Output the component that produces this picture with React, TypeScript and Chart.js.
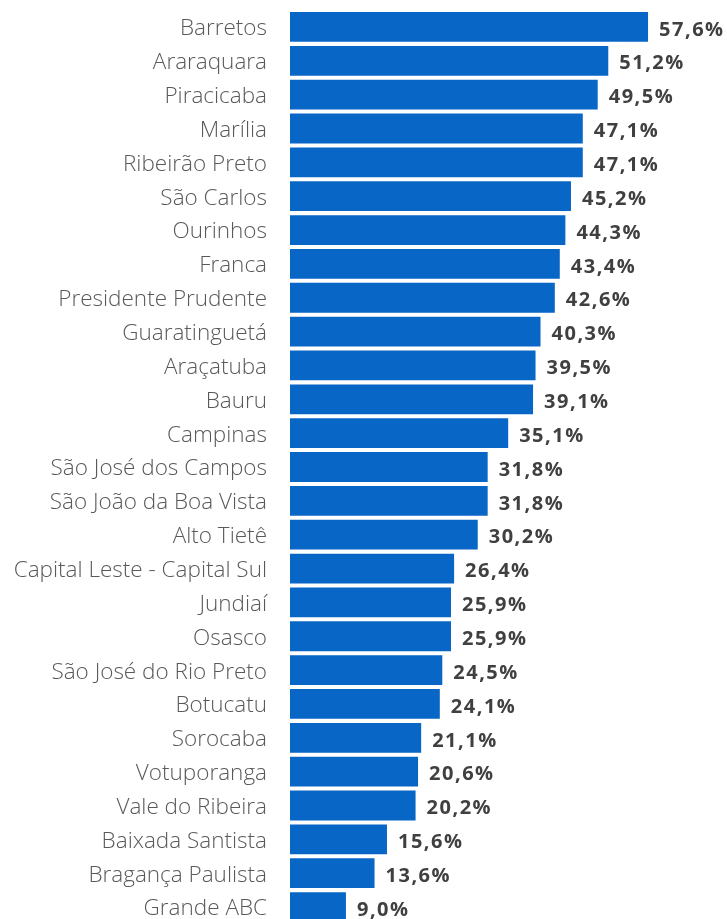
import React, { useEffect, useRef } from "react";
import { Chart, registerables } from "chart.js";

Chart.register(...registerables);

const categories = [
  "Barretos", "Araraquara", "Piracicaba", "Marília", "Ribeirão Preto", "São Carlos",
  "Ourinhos", "Franca", "Presidente Prudente", "Guaratinguetá", "Araçatuba", "Bauru",
  "Campinas", "São José dos Campos", "São João da Boa Vista", "Alto Tietê",
  "Capital Leste - Capital Sul", "Jundiaí", "Osasco", "São José do Rio Preto",
  "Botucatu", "Sorocaba", "Votuporanga", "Vale do Ribeira", "Baixada Santista",
  "Bragança Paulista", "Grande ABC",
];

const values = [
  57.6, 51.2, 49.5, 47.1, 47.1, 45.2, 44.3, 43.4, 42.6, 40.3, 39.5, 39.1, 35.1,
  31.8, 31.8, 30.2, 26.4, 25.9, 25.9, 24.5, 24.1, 21.1, 20.6, 20.2, 15.6, 13.6, 9.0,
];

const fmt = (v: number) => v.toFixed(1).replace(".", ",") + "%";

const valueLabels = {
  id: "valueLabels",
  afterDatasetsDraw(chart: any) {
    const ctx = chart.ctx;
    const meta = chart.getDatasetMeta(0);
    ctx.save();
    ctx.font = "bold 20px 'Open Sans', sans-serif";
    (ctx as any).letterSpacing = "1.5px";
    ctx.fillStyle = "#404040";
    ctx.textAlign = "left";
    ctx.textBaseline = "middle";
    meta.data.forEach((bar: any, i: number) => {
      ctx.fillText(fmt(values[i]), bar.x + 11, bar.y + 3);
    });
    ctx.restore();
  },
};

export default function App() {
  const ref = useRef<HTMLCanvasElement>(null);
  useEffect(() => {
    if (!ref.current) return;
    const chart = new Chart(ref.current, {
      type: "bar",
      data: {
        labels: categories,
        datasets: [
          {
            data: values,
            backgroundColor: "#0866c6",
            borderWidth: 0,
            categoryPercentage: 1,
            barPercentage: 0.88,
          },
        ],
      },
      options: {
        indexAxis: "y",
        animation: false,
        responsive: false,
        maintainAspectRatio: false,
        layout: { padding: { top: 10, bottom: 10, left: 0, right: 0 } },
        plugins: { legend: { display: false }, tooltip: { enabled: false } },
        scales: {
          x: { display: false, min: 0, max: 70.3 },
          y: {
            grid: { display: false, drawTicks: true, tickLength: 23 },
            border: { display: false },
            ticks: {
              color: "#595959",
              padding: 0,
              labelOffset: 2,
              autoSkip: false,
              font: { family: "'Open Sans', sans-serif", size: 22.5, weight: "300" as any, lineHeight: 0.88 },
            },
            afterFit(scale: any) {
              scale.width = 290;
            },
          },
        },
      },
      plugins: [valueLabels],
    });
    return () => chart.destroy();
  }, []);
  return (
    <div style={{ position: "absolute", left: 0, top: 0, width: 727, height: 934 }}>
      <canvas ref={ref} width={727} height={934} style={{ width: 727, height: 934 }} />
    </div>
  );
}
